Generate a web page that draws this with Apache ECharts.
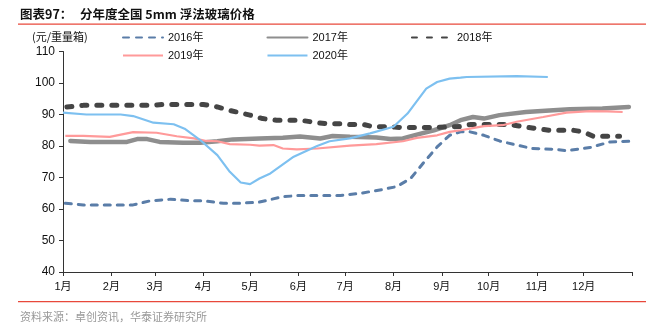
<!DOCTYPE html>
<html>
<head>
<meta charset="utf-8">
<script src="https://cdn.jsdelivr.net/npm/echarts@6/dist/echarts.min.js"></script>
<style>
html,body{margin:0;padding:0;background:#fff;}
#chart{width:660px;height:333px;}
</style>
</head>
<body>
<div id="chart"></div>
<script>
// Month axis (day-of-year positions of month starts) and labels
var monthTicks = [0, 31, 59, 90, 120, 151, 181, 212, 243, 273, 304, 334, 365];
var monthLabels = ['1月','2月','3月','4月','5月','6月','7月','8月','9月','10月','11月','12月'];
var yTicks = [40, 50, 60, 70, 80, 90, 100, 110];

var days2016 = [1.5,13,45,56,69,82,90,103,112,126,141,152,178,191,205,214,223,231,240,248,255,261,270,280,291,301,317,323,338,351,365];
var vals2016 = [61.8,61.3,61.3,62.6,63.1,62.6,62.6,61.8,61.8,62.2,63.9,64.3,64.3,65.0,66.2,67.1,69.7,74.5,79.7,83.4,84.5,84.5,83.4,81.6,80.3,79.2,78.9,78.5,79.5,81.3,81.5];

var days2017 = [4.7,17.5,41,47.6,54,62,77,88,99,109,126,141,152,165,173,184,201,210,218,227,238,248,255,263,270,280,297,312,325,346,363];
var vals2017 = [81.6,81.3,81.3,82.2,82.2,81.3,81.0,81.0,81.5,82.1,82.4,82.6,83.0,82.4,83.2,82.9,82.7,82.2,82.4,83.6,85.0,86.6,88.2,89.2,88.7,89.8,90.8,91.3,91.7,91.9,92.4];

var days2018 = [2.5,13,58,64,90,99,107,120,128,137,152,163,169,180,184,193,199,210,216,240,248,255,261,287,293,304,312,327,334,340,357];
var vals2018 = [92.4,92.9,92.9,93.2,93.2,92.4,91.3,89.8,88.7,88.2,88.2,87.4,87.1,87.1,86.8,86.8,86.1,86.1,85.9,85.9,86.1,86.2,86.8,86.8,86.3,85.5,85.0,85.0,84.5,83.1,83.1];

var days2019 = [1.5,13,30,45,60,73,84,92,99,107,120,126,135,141,150,163,184,201,218,227,240,248,255,261,270,282,291,308,323,338,349,359];
var vals2019 = [83.2,83.2,82.9,84.4,84.2,83.1,82.4,81.6,81.5,80.6,80.4,80.1,80.3,79.2,78.9,79.2,80.1,80.6,81.5,82.6,83.4,84.5,85.0,85.5,86.3,86.6,87.7,89.2,90.6,91.1,91.0,90.8];

var days2020 = [0,15,37,45,58,71,78,88,99,107,114,120,126,133,148,163,171,184,197,212,221,233,240,248,255,259,291,311];
var vals2020 = [90.6,90.0,90.0,89.5,87.4,86.9,85.5,81.9,77.1,71.8,68.4,67.9,69.7,71.3,76.6,80.0,81.5,82.4,84.0,86.1,90.3,98.2,100.3,101.4,101.7,101.9,102.2,101.9];

function pairs(d, v) { return d.map(function (x, i) { return [x, v[i]]; }); }

var chart = echarts.init(document.getElementById('chart'), null, {renderer: 'canvas'});
var numFont = 'Liberation Sans, Arial, Noto Sans CJK SC, sans-serif';
var red = '#E8483B';
var hidden = {color: 'rgba(0,0,0,0)', borderWidth: 0};

chart.setOption({
  animation: false,
  backgroundColor: '#fff',
  grid: {left: 63, right: 28, top: 51.5, bottom: 61, containLabel: false},
  legend: [
    {
      left: 117, top: 27, itemWidth: 40, itemHeight: 14, itemGap: 63,
      itemStyle: hidden,
      textStyle: {fontSize: 11, color: '#111', fontFamily: numFont},
      data: ['2016年', '2017年', '2018年']
    },
    {
      left: 117, top: 45, itemWidth: 40, itemHeight: 14, itemGap: 63,
      itemStyle: hidden,
      textStyle: {fontSize: 11, color: '#111', fontFamily: numFont},
      data: ['2019年', '2020年']
    }
  ],
  xAxis: {
    type: 'value', min: 0, max: 365,
    axisLine: {lineStyle: {color: '#333', width: 1}},
    axisTick: {show: true, length: 4, customValues: monthTicks, lineStyle: {color: '#333'}},
    axisLabel: {
      customValues: monthTicks.slice(0, 12), margin: 9,
      fontSize: 11, color: '#111', fontFamily: numFont,
      formatter: function (v) { var i = monthTicks.indexOf(v); return i >= 0 && i < 12 ? monthLabels[i] : ''; }
    },
    splitLine: {show: false}
  },
  yAxis: {
    type: 'value', min: yTicks[0], max: yTicks[yTicks.length - 1], interval: 10,
    axisLine: {show: true, lineStyle: {color: '#333', width: 1}},
    axisTick: {show: true, length: 4, lineStyle: {color: '#333'}},
    axisLabel: {fontSize: 12, color: '#111', fontFamily: numFont, margin: 8},
    splitLine: {show: false}
  },
  graphic: [
    {type: 'text', left: 20, top: 8, style: {text: '图表97：', font: 'bold 12.5px "Noto Sans CJK SC", sans-serif', fill: '#111'}},
    {type: 'text', left: 80, top: 8, style: {text: '分年度全国 5mm 浮法玻璃价格', font: 'bold 12.5px "Noto Sans CJK SC", sans-serif', fill: '#111'}},
    {type: 'rect', shape: {x: 18, y: 23.5, width: 628, height: 1.2}, style: {fill: red}},
    {type: 'rect', shape: {x: 18, y: 301, width: 628, height: 1.2}, style: {fill: red}},
    {type: 'text', left: 32, top: 31, style: {text: '(元/重量箱)', font: '11px "Noto Sans CJK SC", sans-serif', fill: '#111'}},
    {type: 'text', left: 20, top: 311, style: {text: '资料来源：卓创资讯，华泰证券研究所', font: '11px "Noto Sans CJK SC", sans-serif', fill: '#999', letterSpacing: 1}}
  ],
  series: [
    {name: '2016年', type: 'line', symbol: 'none', data: pairs(days2016, vals2016),
      lineStyle: {color: '#5A7DA8', width: 3, type: [6, 7], cap: 'round'}, itemStyle: hidden},
    {name: '2017年', type: 'line', symbol: 'none', data: pairs(days2017, vals2017),
      lineStyle: {color: '#8E8E8E', width: 4.5, cap: 'round'}, itemStyle: hidden},
    {name: '2018年', type: 'line', symbol: 'none', data: pairs(days2018, vals2018),
      lineStyle: {color: '#454545', width: 5, type: [5, 10], cap: 'round'}, itemStyle: hidden},
    {name: '2019年', type: 'line', symbol: 'none', data: pairs(days2019, vals2019),
      lineStyle: {color: '#FF9A9A', width: 2.2}, itemStyle: hidden},
    {name: '2020年', type: 'line', symbol: 'none', data: pairs(days2020, vals2020),
      lineStyle: {color: '#7DC0F0', width: 2.2}, itemStyle: hidden}
  ]
});
</script>
</body>
</html>
